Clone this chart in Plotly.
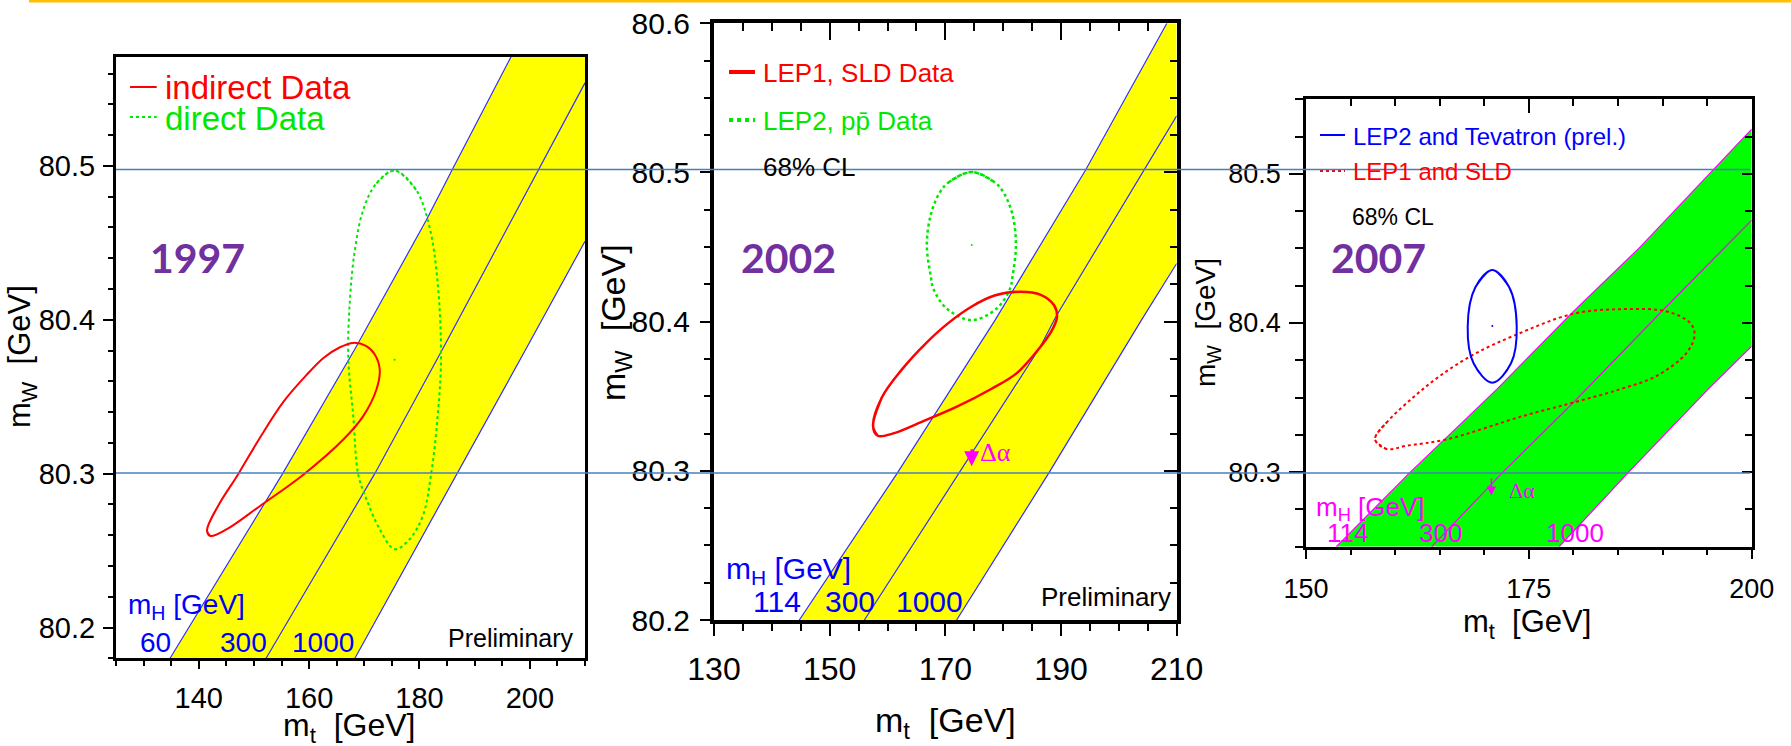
import plotly.graph_objects as go

# ---------------------------------------------------------------- data
# 1997 panel: mW vs mt
P1_XRANGE = [125, 210]
P1_YRANGE = [80.18, 80.571]
P1_MH60_MT = [134.8, 155.2, 168.3, 181.2, 186.0, 196.6]
P1_MH60_MW = [80.18, 80.30, 80.381, 80.4645, 80.498, 80.571]
P1_MH300_MT = [152.2, 171.9, 184.2, 201.7, 210.0]
P1_MH300_MW = [80.18, 80.30, 80.381, 80.498, 80.554]
P1_MH1000_MT = [168.3, 186.9, 199.3, 210.0]
P1_MH1000_MW = [80.18, 80.30, 80.381, 80.451]
P1_INDIRECT_MT = [141.5, 143.5, 147.2, 151.2, 155.3, 159.5, 162.6, 165.5, 168.0, 170.3,
                  171.9, 172.8, 172.2, 169.8, 166.2, 159.0, 151.1, 145.1, 142.1, 141.5]
P1_INDIRECT_MW = [80.263, 80.279, 80.300, 80.324, 80.3465, 80.364, 80.3752, 80.382, 80.385, 80.383,
                  80.3774, 80.3676, 80.3547, 80.3374, 80.3222, 80.2995, 80.279, 80.2639, 80.2595, 80.263]
P1_DIRECT_MT = [175.5, 179.4, 181.8, 183.3, 183.9, 183.3, 182.1, 180.6, 178.2, 175.5,
                172.8, 170.4, 168.9, 168.0, 167.1, 167.4, 168.3, 169.8, 172.2, 175.5]
P1_DIRECT_MW = [80.497, 80.4844, 80.4606, 80.4239, 80.3752, 80.3374, 80.2995, 80.2725, 80.2574, 80.2509,
                80.2639, 80.2833, 80.2995, 80.3374, 80.3752, 80.413, 80.4455, 80.4714, 80.4887, 80.497]
P1_CENTER = ([175.5], [80.374])
P1_XTICK = dict(dtick=20, tick0=140, minor=5)
P1_YTICK = dict(dtick=0.1, tick0=80.2, minor=0.02)

# 2002 panel
P2_XRANGE = [130, 210]
P2_YRANGE = [80.2, 80.6]
P2_MH114_MT = [144.75, 161.6, 178.6, 194.3, 208.3]
P2_MH114_MW = [80.2, 80.298, 80.401, 80.502, 80.6]
P2_MH300_MT = [156.0, 172.2, 186.4, 189.2, 204.5, 210.0]
P2_MH300_MW = [80.2, 80.298, 80.383, 80.404, 80.502, 80.538]
P2_MH1000_MT = [171.95, 187.8, 203.9, 210.0]
P2_MH1000_MW = [80.2, 80.298, 80.401, 80.439]
P2_LEP1_MT = [157.5, 159.0, 162.5, 166.5, 170.5, 174.5, 178.5, 182.9, 186.5, 188.8,
              189.3, 188.4, 186.0, 182.3, 178.0, 172.0, 166.0, 161.0, 158.3, 157.5]
P2_LEP1_MW = [80.33, 80.349, 80.368, 80.385, 80.399, 80.410, 80.4175, 80.42, 80.418, 80.411,
              80.403, 80.394, 80.381, 80.3653, 80.355, 80.343, 80.333, 80.3251, 80.3235, 80.33]
P2_LEP2_MT = [174.55, 178.5, 180.0, 181.6, 182.2, 181.6, 181.2, 178.9, 174.55,
              170.2, 167.9, 167.5, 166.8, 167.5, 169.1, 170.6, 174.55]
P2_LEP2_MW = [80.5003, 80.4935, 80.487, 80.472, 80.4513, 80.43, 80.4223, 80.4089, 80.401,
              80.4089, 80.4223, 80.43, 80.4513, 80.472, 80.487, 80.4935, 80.5003]
P2_CENTER = ([174.55], [80.4513])
P2_DALPHA_MT = 174.55
P2_DALPHA_MW = [80.3155, 80.303]
P2_XTICK = dict(dtick=20, tick0=130, minor=5)
P2_YTICK = dict(dtick=0.1, tick0=80.2, minor=0.025)

# 2007 panel
P3_XRANGE = [150, 200]
P3_YRANGE = [80.25, 80.55]
P3_MH114_MT = [153.4, 161.7, 171.4, 180.0, 187.5, 200.0]
P3_MH114_MW = [80.25, 80.30, 80.3555, 80.4077, 80.451, 80.53]
P3_MH300_MT = [164.1, 172.1, 180.0, 189.9, 200.0]
P3_MH300_MW = [80.25, 80.30, 80.3467, 80.4077, 80.469]
P3_MH1000_MT = [178.4, 186.2, 195.1, 200.0]
P3_MH1000_MW = [80.25, 80.30, 80.3555, 80.3844]
P3_LEP1_MT = [157.74, 159.05, 162.0, 165.0, 168.8, 173.6, 180.0, 185.6, 190.5, 193.1, 193.6,
              192.7, 189.3, 185.2, 180.0, 174.4, 165.8, 161.3, 159.05, 157.74]
P3_LEP1_MW = [80.322, 80.3333, 80.35, 80.3644, 80.3789, 80.3922, 80.4062, 80.4093, 80.4077, 80.40, 80.3922,
              80.38, 80.3644, 80.3555, 80.3467, 80.3377, 80.322, 80.3177, 80.3155, 80.322]
P3_TEV_MT = [170.9, 172.8, 173.64, 173.0, 170.9, 168.8, 168.14, 169.0, 170.9]
P3_TEV_MW = [80.4355, 80.424, 80.3977, 80.373, 80.36, 80.373, 80.3977, 80.424, 80.4355]
P3_CENTER = ([170.9], [80.398])
P3_DALPHA_MT = 170.8
P3_DALPHA_MW = [80.2967, 80.2844]
P3_XTICK = dict(dtick=25, tick0=150, minor=5)
P3_YTICK = dict(dtick=0.1, tick0=80.3, minor=0.025)

# reference levels drawn across all three panels (in the 2002 panel's mW scale)
REF_MW = [80.502, 80.2985]

# ---------------------------------------------------------------- styling
W, H = 1791, 746


def fx(x):
    return x / W


def fy(y):
    return 1 - y / H


SANS = "Liberation Sans, Arial, sans-serif"
SERIF = "Liberation Serif, Times New Roman, serif"
YEAR_FONT = "Lato, Open Sans, sans-serif"
PURPLE = "#7030A0"
YELLOW = "#FFFF00"
BAND_GREEN = "#00FF00"
BAND_BLUE = "#3030FF"
MAGENTA = "#FF00FF"
RED = "#FF0000"
GREEN = "#00E800"
BLUE = "#0000FF"
REF_BLUE = "#4A7EBB"
RULE_GOLD = "#FFC000"

P1_BOX = (116, 56.7, 585, 658.3)
P2_BOX = (714, 23.3, 1176.7, 620)
P3_BOX = (1306, 99.3, 1751.7, 546.7)

fig = go.Figure()


def add_band(xa, ya, up, mid, lo, corner, fill, edge):
    bx = list(up[0]) + ([corner[0]] if corner else []) + list(lo[0])[::-1]
    by = list(up[1]) + ([corner[1]] if corner else []) + list(lo[1])[::-1]
    fig.add_trace(go.Scatter(x=bx, y=by, mode="lines", fill="toself", fillcolor=fill,
                             line=dict(width=0), xaxis=xa, yaxis=ya,
                             hoverinfo="skip", showlegend=False))
    for mt, mw in (up, mid, lo):
        fig.add_trace(go.Scatter(x=mt, y=mw, mode="lines", line=dict(color=edge, width=1.2),
                                 xaxis=xa, yaxis=ya, hoverinfo="skip", showlegend=False))


def add_contour(xa, ya, mt, mw, color, width, dash="solid"):
    # closed contour: wrap one point past each end so the spline joins smoothly
    cx = [mt[-2]] + list(mt) + [mt[1]]
    cy = [mw[-2]] + list(mw) + [mw[1]]
    fig.add_trace(go.Scatter(x=cx, y=cy, mode="lines",
                             line=dict(color=color, width=width, dash=dash, shape="spline", smoothing=1.0),
                             xaxis=xa, yaxis=ya, hoverinfo="skip", showlegend=False))


def add_center(xa, ya, pt, color):
    fig.add_trace(go.Scatter(x=pt[0], y=pt[1], mode="markers", marker=dict(color=color, size=2),
                             xaxis=xa, yaxis=ya, hoverinfo="skip", showlegend=False))


# 1997
add_band("x", "y", (P1_MH60_MT, P1_MH60_MW), (P1_MH300_MT, P1_MH300_MW), (P1_MH1000_MT, P1_MH1000_MW),
         (P1_XRANGE[1], P1_YRANGE[1]), YELLOW, BAND_BLUE)
add_contour("x", "y", P1_DIRECT_MT, P1_DIRECT_MW, GREEN, 2, "dot")
add_contour("x", "y", P1_INDIRECT_MT, P1_INDIRECT_MW, RED, 2)
add_center("x", "y", P1_CENTER, GREEN)

# 2002
add_band("x2", "y2", (P2_MH114_MT, P2_MH114_MW), (P2_MH300_MT, P2_MH300_MW), (P2_MH1000_MT, P2_MH1000_MW),
         (P2_XRANGE[1], P2_YRANGE[1]), YELLOW, BAND_BLUE)
add_contour("x2", "y2", P2_LEP2_MT, P2_LEP2_MW, GREEN, 2.5, "dot")
add_contour("x2", "y2", P2_LEP1_MT, P2_LEP1_MW, RED, 2.5)
add_center("x2", "y2", P2_CENTER, GREEN)

# 2007
add_band("x3", "y3", (P3_MH114_MT, P3_MH114_MW), (P3_MH300_MT, P3_MH300_MW), (P3_MH1000_MT, P3_MH1000_MW),
         None, BAND_GREEN, MAGENTA)
add_contour("x3", "y3", P3_LEP1_MT, P3_LEP1_MW, RED, 2, "dot")
add_contour("x3", "y3", P3_TEV_MT, P3_TEV_MW, BLUE, 2)
add_center("x3", "y3", P3_CENTER, BLUE)

# empty traces so the inner-tick overlay axes get their own subplots
fig.add_trace(go.Scatter(x=[], y=[], xaxis="x4", yaxis="y4", showlegend=False))
fig.add_trace(go.Scatter(x=[], y=[], xaxis="x5", yaxis="y5", showlegend=False))


def frame_axis(box, horizontal, rng, tk, font_size, lw, tw, ticklen, minor_len, standoff):
    l, t, r, b = box
    dom = [fx(l), fx(r)] if horizontal else [fy(b), fy(t)]
    return dict(domain=dom, range=rng, autorange=False, automargin=False,
                showgrid=False, zeroline=False,
                showline=True, linecolor="black", linewidth=lw, mirror=True,
                ticks="outside", ticklen=ticklen, tickwidth=tw, tickcolor="black",
                dtick=tk["dtick"], tick0=tk["tick0"], tickformat=("d" if horizontal else ".1f"),
                tickfont=dict(family=SANS, size=font_size, color="black"),
                ticklabelstandoff=standoff,
                minor=dict(dtick=tk["minor"], tick0=tk["tick0"], ticks="outside", ticklen=minor_len,
                           tickwidth=tw, tickcolor="black", showgrid=False),
                fixedrange=True)


def inner_axis(overlay, anchor, side, rng, tk, tw, ticklen, minor_len):
    return dict(overlaying=overlay, anchor=anchor, side=side, range=rng, autorange=False,
                automargin=False,
                showgrid=False, zeroline=False, showline=False, showticklabels=False,
                ticks="inside", ticklen=ticklen, tickwidth=tw, tickcolor="black",
                dtick=tk["dtick"], tick0=tk["tick0"],
                minor=dict(dtick=tk["minor"], tick0=tk["tick0"], ticks="inside", ticklen=minor_len,
                           tickwidth=tw, tickcolor="black", showgrid=False),
                fixedrange=True)


annotations = []


def label(x, y, text, size, color="black", family=SANS, xanchor="left", angle=0, bold=False):
    annotations.append(dict(x=fx(x), y=fy(y), xref="paper", yref="paper", text=text, showarrow=False,
                            xanchor=xanchor, yanchor="middle", textangle=angle,
                            font=dict(family=family, size=size, color=color,
                                      weight=("bold" if bold else "normal"))))


shapes = []


def sample(x0, x1, y, color, width, dash="solid"):
    shapes.append(dict(type="line", xref="paper", yref="paper", x0=fx(x0), x1=fx(x1), y0=fy(y), y1=fy(y),
                       line=dict(color=color, width=width, dash=dash)))


# ---- 1997 texts
sample(130, 156.7, 87, RED, 2)
sample(130, 156.7, 117, GREEN, 2, "dot")
label(163, 88, "indirect Data", 33, RED)
label(163, 118, "direct Data", 33, GREEN)
label(148, 257, "1997", 41, PURPLE, YEAR_FONT, bold=True)
label(126, 606, "m<sub>H</sub> [GeV]", 28, BLUE)
label(155.5, 642, "60", 28, BLUE, xanchor="center")
label(243.3, 642, "300", 28, BLUE, xanchor="center")
label(323.3, 642, "1000", 28, BLUE, xanchor="center")
label(511, 638, "Preliminary", 25, xanchor="center")
label(22, 357, "m<sub>W</sub>  [GeV]", 31, xanchor="center", angle=-90)
label(349, 727, "m<sub>t</sub>  [GeV]", 32, xanchor="center")

# ---- 2002 texts
sample(729, 755, 72, RED, 4)
sample(729, 755, 120, GREEN, 4, "dot")
label(761, 73, "LEP1, SLD Data", 26, RED)
label(761, 121, "LEP2, pp\u0304 Data", 26, GREEN)
label(761, 167, "68% CL", 26)
label(739, 257, "2002", 41, PURPLE, YEAR_FONT, bold=True)
label(724, 570, "m<sub>H</sub> [GeV]", 30, BLUE)
label(776.7, 601, "114", 30, BLUE, xanchor="center")
label(850, 601, "300", 30, BLUE, xanchor="center")
label(929, 601, "1000", 30, BLUE, xanchor="center")
label(1106, 597, "Preliminary", 26, xanchor="center")
label(978, 453, "\u0394\u03b1", 26, MAGENTA, SERIF)
label(616, 323, "m<sub>W</sub>  [GeV]", 34, xanchor="center", angle=-90)
label(946, 722, "m<sub>t</sub>  [GeV]", 34, xanchor="center")

# ---- 2007 texts
sample(1320, 1345, 135, BLUE, 2)
sample(1320, 1345, 171, RED, 2, "dot")
label(1351, 136, "LEP2 and Tevatron (prel.)", 24, BLUE)
label(1351, 172, "LEP1 and SLD", 24, RED)
label(1350, 217, "68% CL", 23)
label(1329, 257, "2007", 41, PURPLE, YEAR_FONT, bold=True)
label(1314, 508, "m<sub>H</sub> [GeV]", 26, MAGENTA)
label(1347.5, 533, "114", 26, MAGENTA, xanchor="center")
label(1440.5, 533, "300", 26, MAGENTA, xanchor="center")
label(1575, 533, "1000", 26, MAGENTA, xanchor="center")
label(1507, 490, "\u0394\u03b1", 22, MAGENTA, SERIF)
label(1208, 323, "m<sub>W</sub>  [GeV]", 28, xanchor="center", angle=-90)
label(1527, 624, "m<sub>t</sub>  [GeV]", 31, xanchor="center")

# Δα shift arrows
for xa, ya, mt, mw, w in (("x2", "y2", P2_DALPHA_MT, P2_DALPHA_MW, 2.5),
                          ("x3", "y3", P3_DALPHA_MT, P3_DALPHA_MW, 1.5)):
    annotations.append(dict(x=mt, y=mw[1], ax=mt, ay=mw[0], xref=xa, yref=ya, axref=xa, ayref=ya,
                            text="", showarrow=True, arrowhead=2, arrowsize=1.2, arrowwidth=w,
                            arrowcolor=MAGENTA))

# horizontal reference lines and top rule
for v in REF_MW:
    shapes.append(dict(type="line", xref="paper", yref="y2", x0=fx(116), x1=fx(1750), y0=v, y1=v,
                       line=dict(color=REF_BLUE, width=1.6)))
shapes.append(dict(type="line", xref="paper", yref="paper", x0=fx(29), x1=1, y0=fy(1.2), y1=fy(1.2),
                   line=dict(color=RULE_GOLD, width=2.5)))

fig.update_layout(
    width=W, height=H, autosize=False,
    margin=dict(l=0, r=0, t=0, b=0, pad=0, autoexpand=False),
    paper_bgcolor="white", plot_bgcolor="white",
    showlegend=False,
    xaxis=frame_axis(P1_BOX, True, P1_XRANGE, P1_XTICK, 29, 3, 1.5, 8, 5, 4),
    yaxis=frame_axis(P1_BOX, False, P1_YRANGE, P1_YTICK, 29, 3, 1.5, 10, 5, 2),
    xaxis2=dict(frame_axis(P2_BOX, True, P2_XRANGE, P2_XTICK, 32, 4, 2, 12, 7, 6), anchor="y2"),
    yaxis2=dict(frame_axis(P2_BOX, False, P2_YRANGE, P2_YTICK, 30, 4, 2, 10, 6, 4), anchor="x2"),
    xaxis3=dict(frame_axis(P3_BOX, True, P3_XRANGE, P3_XTICK, 27, 2.5, 1.5, 10, 6, 6), anchor="y3"),
    yaxis3=dict(frame_axis(P3_BOX, False, P3_YRANGE, P3_YTICK, 27, 2.5, 1.5, 14, 8, 3), anchor="x3"),
    xaxis4=inner_axis("x2", "y4", "top", P2_XRANGE, P2_XTICK, 2, 17, 8),
    yaxis4=inner_axis("y2", "x4", "right", P2_YRANGE, P2_YTICK, 2, 13, 7),
    xaxis5=inner_axis("x3", "y5", "top", P3_XRANGE, P3_XTICK, 1.5, 14, 7),
    yaxis5=inner_axis("y3", "x5", "right", P3_YRANGE, P3_YTICK, 1.5, 10, 7),
    annotations=annotations,
    shapes=shapes,
)

fig.write_html("out.html")
